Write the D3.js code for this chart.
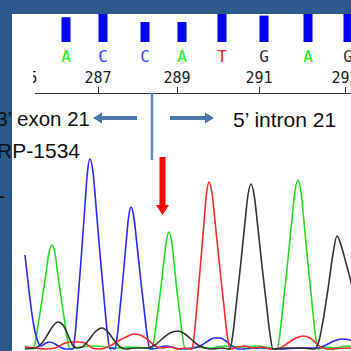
<!DOCTYPE html>
<html>
<head>
<meta charset="utf-8">
<script src="https://cdn.jsdelivr.net/npm/d3@7"></script>
<style>
  html, body { margin: 0; padding: 0; background: #fff; }
  svg { display: block; }
</style>
</head>
<body>
<div id="chart"></div>
<script>
// base calls (scan positions) + quality
const bases = ['A', 'C', 'C', 'A', 'T', 'G', 'A', 'G'];
const baseScans = [41, 78, 120, 157, 197, 239, 283, 323];
const baseQuality = [31, 40, 25, 25, 40, 33, 40, 40];

// ruler
const tickLabels = [285, 287, 289, 291, 293];
const tickScans = [-1, 73, 152, 234, 320];

// trace channels: [scan, signal]
const traceA = [[0,3],[5,1],[8,0],[10.9,10],[13.7,28],[17.5,52],[21.3,78],[24.1,97],[27,104],[29.7,97],[32.4,78],[36,52],[39.6,28],[42.3,10],[45,0],[55,2],[70,3],[90,1],[105,2],[120,1],[127,0],
  [129.5,12],[132.1,32],[135.5,58],[138.9,88],[141.5,109],[144,117],[146.4,109],[148.8,88],[152,58],[155.2,32],[157.6,12],[160,0],
  [170,2],[185,1],[200,3],[215,2],[233,3],[245,1],[252,0],
  [255.15,17],[258.3,46],[262.5,85],[266.7,127],[269.85,157],[273,169],[276,157],[279,127],[283,85],[287,46],[290,17],[293,0],[300,2],[310,1],[320,3],[331,2]];
const traceC = [[0,94],[4,58],[8,28],[12,10],[16,3],[21,6],[25,7],[30,5],[35,2],[41,0],[48,0],
  [50.55,19],[53.1,51],[56.5,95],[59.9,143],[62.45,177],[65,190],[68,177],[71,143],[75,95],[79,51],[82,19],[85,0],[87,1],
  [90,0],[92.4,14],[94.8,38],[98,71],[101.2,107],[103.6,132],[106,142],[108.85,132],[111.7,107],[115.5,71],[119.3,38],[122.15,14],[125,0],
  [133,1],[140,3],[147,2],[155,0],[170,1],[177,4],[183,8],[189,11],[195,11],[201,8],[207,3],[213,0],[235,1],[255,0],[275,1],[293,1],[301,4],[309,8],[317,10],[325,9],[331,7]];
const traceG = [[0,0],[10,1],[17,6],[23,15],[28,23],[33,27],[38,24],[43,14],[47,5],[52,1],[57,2],[63,8],[70,17],[77,21],[83,17],[89,9],[95,2],[101,0],
  [110,1],[122,1],[130,4],[137,10],[145,16],[153,18],[160,15],[167,9],[173,4],[180,1],[187,0],[197,1],[205,0],
  [208.15,17],[211.3,45],[215.5,83],[219.7,124],[222.85,153],[226,165],[229.3,153],[232.6,124],[237,83],[241.4,45],[244.7,17],[248,0],
  [260,1],[275,1],[290,0],[294,8],[298,28],[303,60],[308,95],[312,113],[316,104],[321,86],[326,67],[331,45]];
const traceT = [[0,2],[10,1],[20,0],[30,1],[38,5],[45,7],[53,7],[60,6],[67,1],[75,0],[85,3],[93,8],[101,12],[109,15],[115,14],[123,9],[130,3],[137,1],[145,2],[153,0],[160,1],
  [167,0],[169.55,17],[172.1,45],[175.5,84],[178.9,125],[181.45,155],[184,167],[187.15,155],[190.3,125],[194.5,84],[198.7,45],[201.85,17],[205,0],
  [213,2],[220,3],[227,1],[237,2],[245,0],[255,1],[263,6],[271,11],[278,13],[285,11],[292,5],[297,1],[305,0],[320,1],[331,0]];

const baseColor = { A: '#22ee22', C: '#3c3cff', G: '#333333', T: '#ff2020' };

const W = 351, H = 351;
const svg = d3.select('#chart').append('svg')
  .attr('width', W)
  .attr('height', H)
  .style('font-family', 'Liberation Sans, Arial, sans-serif');

svg.append('rect').attr('width', W).attr('height', H).attr('fill', '#fff');

const x = d3.scaleLinear().domain([0, 330]).range([25, 355]);
const y = d3.scaleLinear().domain([0, 200]).range([349, 149]);
const q = d3.scaleLinear().domain([0, 40]).range([42, 10]);

svg.append('clipPath').attr('id', 'rulerClip')
  .append('rect').attr('x', 33).attr('y', 0).attr('width', W).attr('height', 100);

// quality bars
svg.selectAll('.qbar')
  .data(bases)
  .enter().append('rect')
  .attr('class', 'qbar')
  .attr('x', (d, i) => x(baseScans[i]) - 4.5)
  .attr('y', (d, i) => q(baseQuality[i]))
  .attr('width', 9)
  .attr('height', (d, i) => q(0) - q(baseQuality[i]))
  .attr('fill', '#0000ff');

// base letters
svg.selectAll('.base')
  .data(bases)
  .enter().append('text')
  .attr('class', 'base')
  .attr('x', (d, i) => x(baseScans[i]))
  .attr('y', 62)
  .attr('text-anchor', 'middle')
  .style('font-family', 'DejaVu Sans Mono, monospace')
  .style('font-size', '16px')
  .style('fill', d => baseColor[d])
  .text(d => d);

// ruler
const ruler = svg.append('g').attr('clip-path', 'url(#rulerClip)');
ruler.append('line')
  .attr('x1', 35).attr('x2', W)
  .attr('y1', 93.5).attr('y2', 93.5)
  .attr('stroke', '#333').attr('stroke-width', 1);
ruler.selectAll('.tick')
  .data(tickLabels)
  .enter().append('line')
  .attr('x1', (d, i) => Math.round(x(tickScans[i])) + 0.5)
  .attr('x2', (d, i) => Math.round(x(tickScans[i])) + 0.5)
  .attr('y1', 87).attr('y2', 93)
  .attr('stroke', '#333');
ruler.selectAll('.tlabel')
  .data(tickLabels)
  .enter().append('text')
  .attr('x', (d, i) => x(tickScans[i]))
  .attr('y', 83)
  .attr('text-anchor', 'middle')
  .style('font-family', 'DejaVu Sans Mono, monospace')
  .style('font-size', '15px')
  .style('fill', '#222')
  .text(d => d);

// traces
const line = d3.line()
  .x(d => x(d[0]))
  .y(d => y(d[1]))
  .curve(d3.curveMonotoneX);

const traces = [
  { data: traceA, color: '#22e022' },
  { data: traceC, color: '#2a2aff' },
  { data: traceT, color: '#ff2a2a' },
  { data: traceG, color: '#333333' }
];
svg.selectAll('.trace')
  .data(traces)
  .enter().append('path')
  .attr('class', 'trace')
  .attr('d', d => line(d.data))
  .attr('fill', 'none')
  .attr('stroke', d => d.color)
  .attr('stroke-width', 1.6);

// slide frame
const frame = '#2a5a8c';
svg.append('rect').attr('x', 0).attr('y', 0).attr('width', W).attr('height', 14).attr('fill', frame);
svg.append('rect').attr('x', 0).attr('y', 0).attr('width', 12).attr('height', H).attr('fill', frame);

// annotations (on top of the frame)
const annBlue = '#4a78aa';
svg.append('line')
  .attr('x1', 152).attr('x2', 152)
  .attr('y1', 93).attr('y2', 160)
  .attr('stroke', '#5b8ac4').attr('stroke-width', 2.5);

svg.append('line')
  .attr('x1', 137).attr('x2', 101)
  .attr('y1', 118).attr('y2', 118)
  .attr('stroke', annBlue).attr('stroke-width', 4);
svg.append('path')
  .attr('d', 'M93,118 L102,112.5 L102,123.5 Z')
  .attr('fill', annBlue);

svg.append('line')
  .attr('x1', 170).attr('x2', 205)
  .attr('y1', 118).attr('y2', 118)
  .attr('stroke', annBlue).attr('stroke-width', 4);
svg.append('path')
  .attr('d', 'M214,118 L205,112.5 L205,123.5 Z')
  .attr('fill', annBlue);

svg.append('rect')
  .attr('x', 159.5).attr('y', 157)
  .attr('width', 6).attr('height', 50)
  .attr('fill', '#ff0000');
svg.append('path')
  .attr('d', 'M156,205 L169,205 L162.5,215 Z')
  .attr('fill', '#ff0000');

const labels = [
  { text: '3’ exon 21', x: 90, y: 126, size: 20.5, anchor: 'end' },
  { text: 'RP-1534', x: 80, y: 158, size: 21, anchor: 'end' },
  { text: '-', x: 5, y: 203, size: 20, anchor: 'end' },
  { text: '5’ intron 21', x: 233, y: 127, size: 21, anchor: 'start' }
];
svg.selectAll('.ann')
  .data(labels)
  .enter().append('text')
  .attr('class', 'ann')
  .attr('x', d => d.x)
  .attr('y', d => d.y)
  .attr('text-anchor', d => d.anchor)
  .style('font-size', d => d.size + 'px')
  .style('fill', '#111')
  .text(d => d.text);
</script>
</body>
</html>
